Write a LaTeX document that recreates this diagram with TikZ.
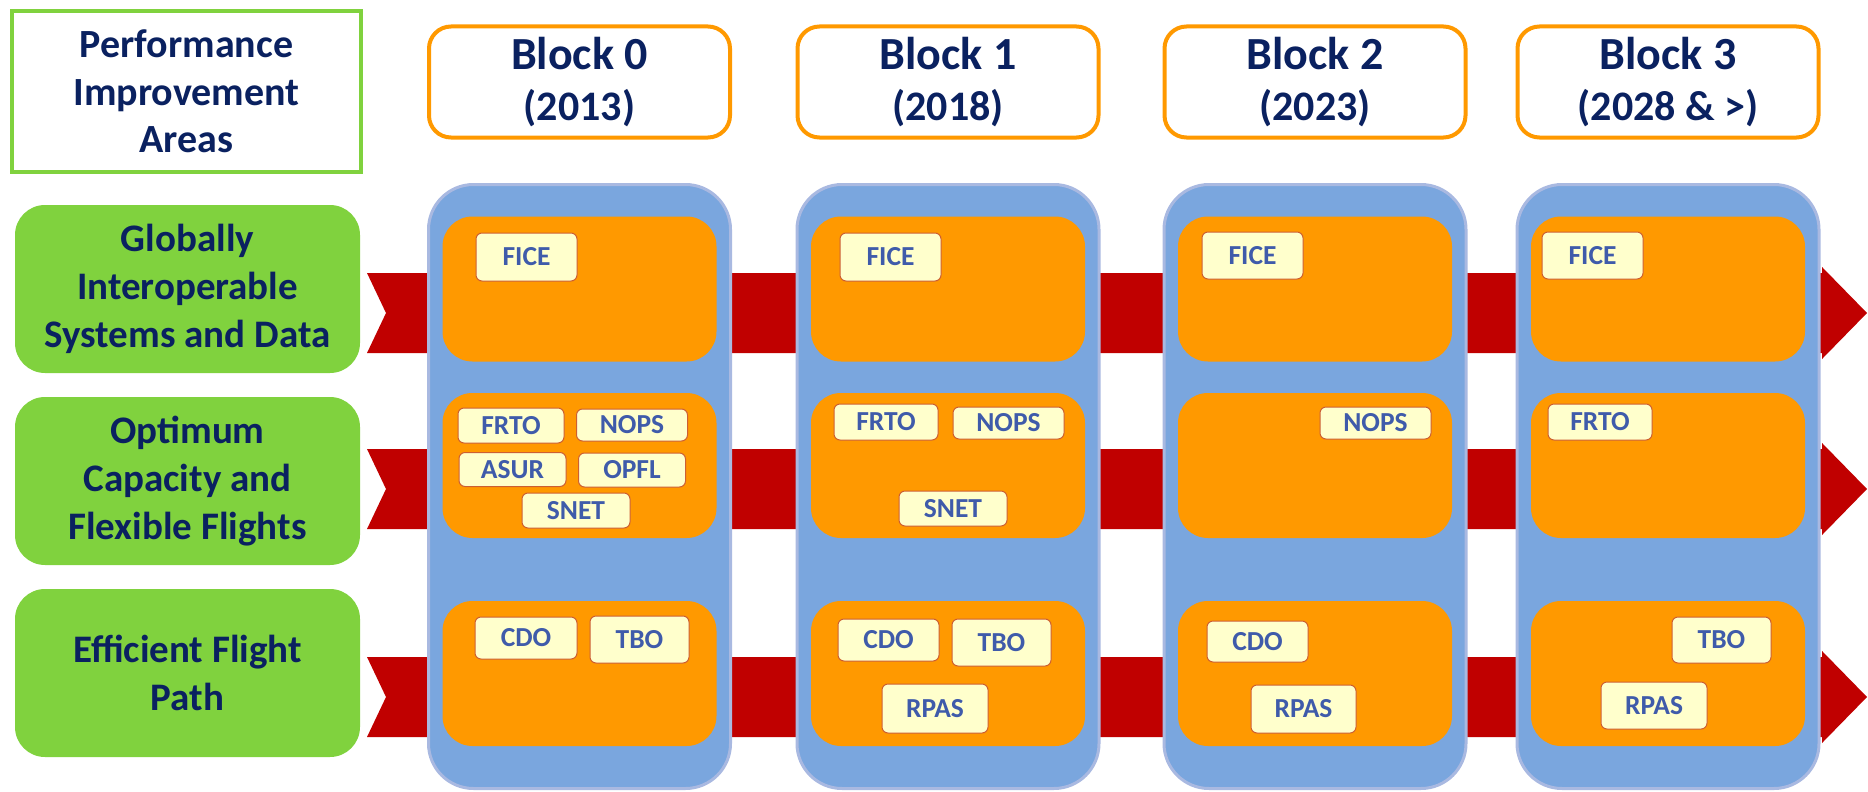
\documentclass[tikz,border=0pt]{standalone}
\usepackage{fontspec}
\setmainfont{Carlito}

\definecolor{navy}{HTML}{0A2160}
\definecolor{areagreen}{HTML}{80D23E}
\definecolor{colblue}{HTML}{7AA6DE}
\definecolor{coledge}{HTML}{A9B9E1}
\definecolor{panorange}{HTML}{FF9900}
\definecolor{flowred}{HTML}{C00000}
\definecolor{chipfill}{HTML}{FFFFCC}
\definecolor{chipedge}{HTML}{CC5F33}
\definecolor{chipblue}{HTML}{3F5BAA}

\tikzset{
  areabox/.style={fill=areagreen, rounded corners=30pt, minimum width=345pt, minimum height=168pt,
    align=center, text=navy, font=\bfseries\fontsize{39}{48}\selectfont},
  blockhead/.style={draw=panorange, line width=4pt, fill=white, rounded corners=22pt,
    minimum width=301pt, minimum height=111pt, align=center, text=navy, inner sep=0pt,
    font=\bfseries\fontsize{46}{51}\selectfont},
  colbox/.style={draw=coledge, line width=3pt, fill=colblue, rounded corners=45pt,
    minimum width=302pt, minimum height=604pt},
  panel/.style={fill=panorange, rounded corners=30pt, minimum width=274pt, minimum height=145pt},
  chip/.style={draw=chipedge, line width=1pt, fill=chipfill, rounded corners=6pt, inner sep=0pt,
    text=chipblue, font=\bfseries\fontsize{27.5}{30}\selectfont}
}

\begin{document}
\begin{tikzpicture}[x=1pt,y=-1pt]
\useasboundingbox (0,0) rectangle (1868,792);

% Bandas rojas
\foreach \y in {313, 489, 697}
  \fill[flowred] (367,\y-40) -- (1822,\y-40) -- (1822,\y-46) -- (1867,\y)
    -- (1822,\y+46) -- (1822,\y+40) -- (367,\y+40) -- (386,\y) -- cycle;

% Titulo y areas
\node[draw=areagreen, line width=4pt, minimum width=349pt, minimum height=161pt, align=center,
  text=navy, font=\bfseries\fontsize{40}{47.5}\selectfont] (pia) at (186.5,91.5)
  {Performance\\Improvement\\Areas};

\node[areabox] (area1) at (187.5,289) {Globally\\Interoperable\\Systems and Data};
\node[areabox] (area2) at (187.5,481) {Optimum\\Capacity and\\Flexible Flights};
\node[areabox] (area3) at (187.5,673) {Efficient Flight\\Path};

% Columnas por bloque
\foreach \i/\cx/\blk/\yr in {0/579.5/Block 0/(2013), 1/948/Block 1/(2018),
    2/1315/Block 2/(2023), 3/1668/Block 3/(2028 \& >)} {
  \node[blockhead] (blk\i) at (\cx,82)
    {\blk\\\fontsize{42}{51}\selectfont \yr};
  \node[colbox] (col\i) at (\cx,486.5) {};
  \node[panel] (pan\i a) at (\cx,289) {};
  \node[panel] (pan\i b) at (\cx,465.5) {};
  \node[panel] (pan\i c) at (\cx,673.5) {};
}

% Elementos
\foreach \nm/\cx/\cy/\w/\h/\txt in {
    ficeA/526.5/257/101/48/FICE, frtoA/511/425.5/106/35/FRTO, nopsA/632/425/111/32/NOPS,
    asurA/512.5/469.5/107/34/ASUR, opflA/632/470/107/34/OPFL, snetA/576/510.5/108/35/SNET,
    cdoA/526/638/102/42/CDO, tboA/639.5/639.5/99/47/TBO,
    ficeB/890.5/257/101/48/FICE, frtoB/886/422/104/36/FRTO, nopsB/1008.5/423/111/32/NOPS,
    snetB/953/508.5/108/35/SNET, cdoB/888.5/640/101/42/CDO, tboB/1001.5/642.5/99/47/TBO,
    rpasB/935/708.5/106/49/RPAS,
    ficeC/1252.5/255.5/101/47/FICE, nopsC/1375.5/423/111/32/NOPS,
    cdoC/1257.5/641.5/101/41/CDO, rpasC/1303.5/709/105/48/RPAS,
    ficeD/1592.5/255.5/101/47/FICE, frtoD/1600/422/104/36/FRTO,
    tboD/1721.5/640/99/46/TBO, rpasD/1654/705.5/106/47/RPAS}
  \node[chip, minimum width=\w pt, minimum height=\h pt] (\nm) at (\cx,\cy) {\txt};

\end{tikzpicture}
\end{document}
